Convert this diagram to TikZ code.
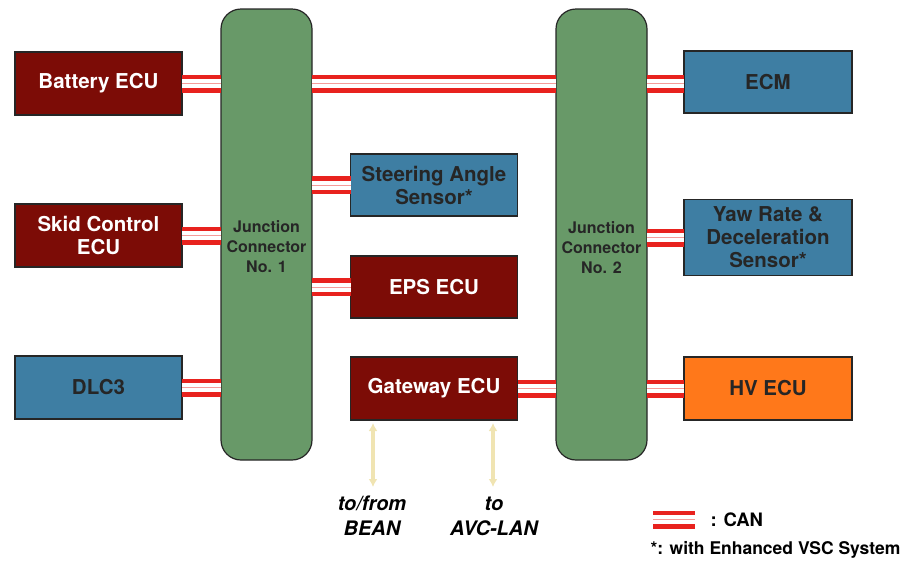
\documentclass[tikz,border=0pt]{standalone}
\usepackage{fontspec}
\setmainfont{TeX Gyre Heros}
\usepackage{tikz}
\usetikzlibrary{positioning, arrows.meta}
\definecolor{ecured}{RGB}{124,12,6}
\definecolor{sensblue}{RGB}{62,126,163}
\definecolor{hvorange}{RGB}{255,120,26}
\definecolor{jcgreen}{RGB}{104,153,104}
\definecolor{canred}{RGB}{232,34,30}
\definecolor{linkyellow}{RGB}{240,228,178}
\tikzset{
x=1pt, y=-1pt, % one unit is one pixel of the sheet
node distance=89pt, % gap between the boxes of one column
unit/.style={draw=black!85, line width=1.2pt, outer sep=0pt, inner sep=0pt, minimum width=167pt, minimum height=63pt, align=center, font=\fontsize{20.5}{23}\selectfont\bfseries}, % every ECU or sensor box
ecu/.style={unit, fill=ecured, text=white},
sensor/.style={unit, fill=sensblue, text=black!85},
junction/.style={draw=black!85, line width=1.2pt, fill=jcgreen, rounded corners=20pt, outer sep=0pt, minimum width=91pt, minimum height=451pt}, % the two junction connectors
jctext/.style={align=center, text=black!85, font=\fontsize{16}{20}\selectfont\bfseries},
can/.style={draw=canred, line width=18pt, postaction={draw=white, line width=9pt}, postaction={draw=canred!45, line width=0.8pt}}, % CAN twisted pair
gwlink/.style={draw=linkyellow, line width=3.5pt, {Latex[length=8pt,width=9pt]}-{Latex[length=8pt,width=9pt]}},
busnote/.style={align=center, font=\fontsize{20}{25}\selectfont\bfseries\itshape},
}
\begin{document}
\begin{tikzpicture}
\useasboundingbox (0,0) rectangle (914,571);
% left column
\node[ecu] (batt) at (98.5,83.5) {Battery ECU};
\node[ecu, below=89pt of batt] (skid) {Skid Control\\ECU};
\node[sensor, below=89pt of skid] (dlc) {DLC3};
% junction connectors
\node[junction] (jc1) at (266.5,234.5) {};
\node[jctext] at (266.5,247) {Junction\\Connector\\No. 1};
\node[junction] (jc2) at (601.5,234.5) {};
\node[jctext] at (601.5,248) {Junction\\Connector\\No. 2};
% middle column
\node[sensor, minimum height=62pt] (steer) at (434,185) {Steering Angle\\Sensor*};
\node[ecu, minimum height=62pt] (eps) at (434,287) {EPS ECU};
\node[ecu] (gw) at (434,388.5) {Gateway ECU};
% right column
\node[sensor, minimum width=168pt, minimum height=62pt] (ecm) at (768,82) {ECM};
\node[sensor, minimum width=168pt, minimum height=76pt] (yaw) at (768,237.5) {Yaw Rate \&\\Deceleration\\Sensor*};
\node[ecu, fill=hvorange, text=black!85, minimum width=168pt] (hv) at (768,388.5) {HV ECU};
% CAN lines
\draw[can] (batt.east) -- (batt.east -| jc1.west);
\draw[can] (skid.east) -- (skid.east -| jc1.west);
\draw[can] (dlc.east) -- (dlc.east -| jc1.west);
\draw[can] (jc1.east |- batt.east) -- (jc2.west |- batt.east);
\draw[can] (jc1.east |- steer.west) -- (steer.west);
\draw[can] (jc1.east |- eps.west) -- (eps.west);
\draw[can] (gw.east) -- (gw.east -| jc2.west);
\draw[can] (jc2.east |- batt.east) -- (ecm.west |- batt.east);
\draw[can] (jc2.east |- yaw.west) -- (yaw.west);
\draw[can] (jc2.east |- hv.west) -- (hv.west);
% gateway links
\node[busnote] (bean) at (372,516) {to/from\\BEAN};
\node[busnote] (avc) at (494,516) {to\\AVC-LAN};
\coordinate (beanend) at (373,487);
\coordinate (avcend) at (493,487);
\draw[gwlink] (gw.south -| beanend) ++(0,3) -- (beanend);
\draw[gwlink] (gw.south -| avcend) ++(0,3) -- (avcend);
% legend
\coordinate (leg1) at (653,519.5);
\coordinate (leg2) at (695,519.5);
\draw[can] (leg1) -- (leg2);
\node[anchor=west, font=\fontsize{18.5}{20}\selectfont\bfseries] (canlbl) at (707,520) {: CAN};
\node[anchor=west, font=\fontsize{17.5}{19}\selectfont\bfseries] (vsc) at (647,550) {*: with Enhanced VSC System};
\end{tikzpicture}
\end{document}
